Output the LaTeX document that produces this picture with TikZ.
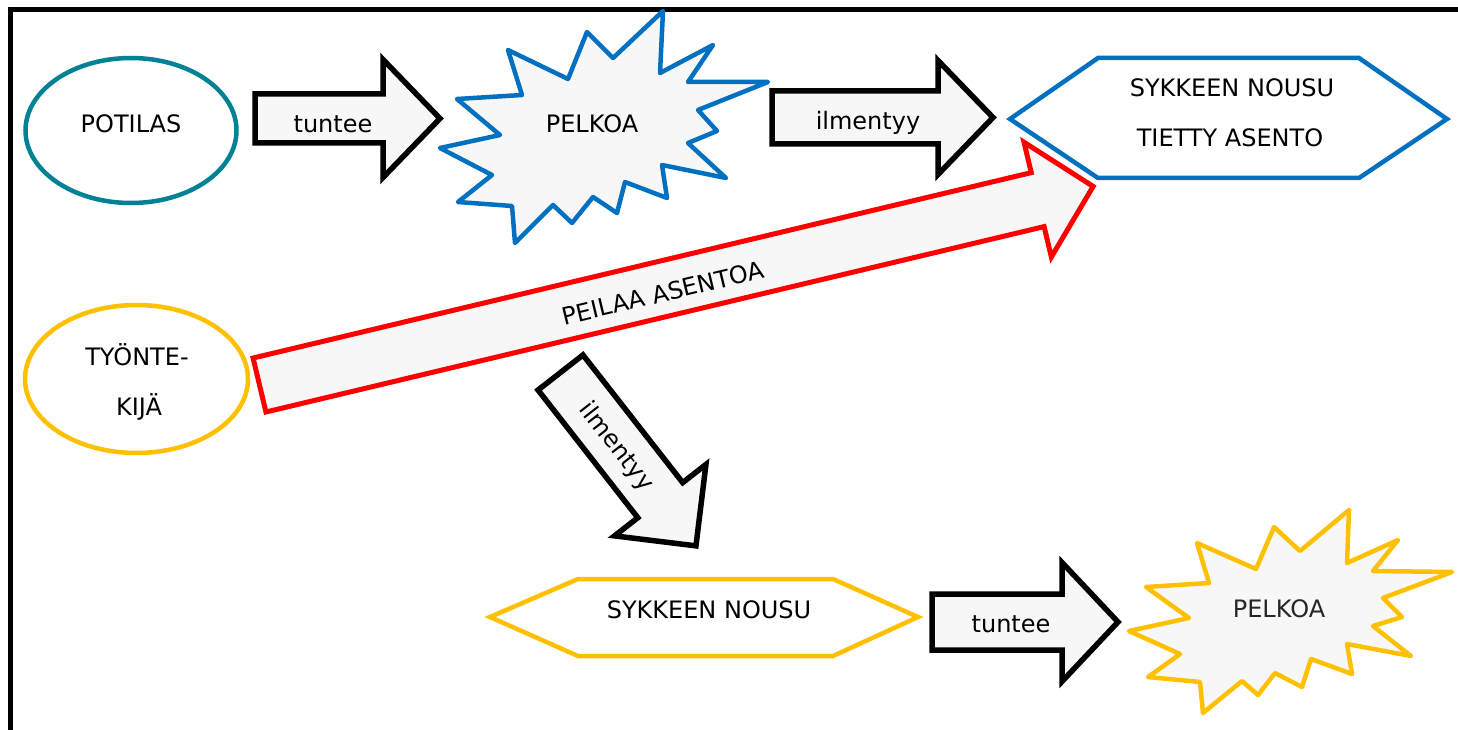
\documentclass[tikz,border=0pt]{standalone}
\usepackage{fontspec}
\setmainfont{DejaVu Sans}
\usetikzlibrary{shapes.geometric}
\definecolor{tealline}{RGB}{0,130,148}
\definecolor{blueline}{RGB}{0,112,192}
\definecolor{goldline}{RGB}{255,192,0}
\definecolor{fillgray}{RGB}{247,247,247}
\definecolor{txtdark}{RGB}{38,38,38}
\newcommand\BlkArrow[5]{%
  \draw[#1] (0,-#3) -- ({#2-#5},-#3) -- ({#2-#5},-#4) -- (#2,0) -- ({#2-#5},#4) -- ({#2-#5},#3) -- (0,#3) -- cycle;}
\begin{document}
\begin{tikzpicture}[x=1pt,y=-1pt,
  every node/.style={font=\fontsize{24}{29}\selectfont, inner sep=0pt, text=black},
  oval/.style={ellipse, draw, line width=4.5pt, fill=white, inner sep=0pt},
  blk/.style={draw=black, line width=5.5pt, fill=fillgray, line join=miter},
  redblk/.style={draw=red, line width=5pt, fill=fillgray, line join=miter},
  burst/.style={line width=4.5pt, fill=fillgray, line join=round},
  hexa/.style={line width=4.5pt, fill=white, line join=miter},
  lbl/.style={anchor=base}
]
\useasboundingbox (0,0) rectangle (1458,730);
\fill[white] (0,0) rectangle (1458,730);
\draw[line width=5pt] (1458,10) -- (10,10) -- (10,730);

% hexagons
\draw[hexa, draw=blueline] (1010,119) -- (1098,58) -- (1359,58) -- (1447,119) -- (1359,178) -- (1098,178) -- cycle;
\draw[hexa, draw=goldline] (490,617) -- (578,579) -- (833,579) -- (918,617) -- (833,656) -- (578,656) -- cycle;

% bursts
\draw[burst, draw=blueline] (663,11) -- (660,73) -- (713,45) -- (688,82) -- (768,82) -- (698,110) -- (717,131) -- (688,143) -- (726,178) -- (662,165) -- (667,198) -- (625,182) -- (617,213) -- (593,197) -- (572,223) -- (553,205) -- (515,243) -- (512,206) -- (458,202) -- (492,175) -- (440,148) -- (500,135) -- (457,99) -- (522,95) -- (508,50) -- (568,79) -- (587,32) -- (613,58) -- cycle;
\draw[burst, draw=goldline] (1349,510) -- (1347,563) -- (1398,540) -- (1373,571) -- (1452,572) -- (1383,598) -- (1402,617) -- (1373,626) -- (1411,656) -- (1347,644) -- (1352,674) -- (1311,659) -- (1302,687) -- (1275,673) -- (1258,695) -- (1242,681) -- (1203,713) -- (1200,682) -- (1148,677) -- (1180,654) -- (1129,631) -- (1189,618) -- (1146,587) -- (1209,583) -- (1197,543) -- (1256,569) -- (1274,527) -- (1300,551) -- cycle;

% ovals
\node[oval, draw=tealline, minimum width=211pt, minimum height=145pt] (potilas) at (131,130.5) {};
\node[oval, draw=goldline, minimum width=223pt, minimum height=148pt] (tyontekija) at (136.5,379) {};

% block arrows
\begin{scope}[shift={(255,118.5)}] \BlkArrow{blk}{185}{24.5}{59}{57} \end{scope}
\begin{scope}[shift={(772,117.5)}] \BlkArrow{blk}{221}{26.5}{57}{55} \end{scope}
\begin{scope}[shift={(932,622)}] \BlkArrow{blk}{186}{28}{59.5}{56} \end{scope}
\begin{scope}[shift={(560.5,372.5)}, rotate=-52] \BlkArrow{blk}{220}{28.5}{58}{58} \end{scope}
\begin{scope}[shift={(259.5,385)}, rotate=13.4] \BlkArrow{redblk}{857}{27.75}{59}{57} \end{scope}

% texts
\node[lbl] (potilasT) at (131,132.7) {POTILAS};
\node[lbl] (tyT1) at (137,365) {TYÖNTE-};
\node[lbl] (tyT2) at (139,415) {KIJÄ};
\node[lbl] (pelkoa1) at (592,133) {PELKOA};
\node[lbl, text=txtdark] (pelkoa2) at (1279,617) {PELKOA};
\node[lbl] (hexT1) at (1232,97) {SYKKEEN NOUSU};
\node[lbl] (hexT2) at (1230,147) {TIETTY ASENTO};
\node[lbl] (hexB) at (709,618) {SYKKEEN NOUSU};
\node[lbl] (tuntee1) at (333,132.7) {tuntee};
\node[lbl] (ilm1) at (868,130) {ilmentyy};
\node[lbl] (tuntee2) at (1011,632.7) {tuntee};
\node[rotate=13.4] (peilaa) at (663,293) {PEILAA ASENTOA};
\node[rotate=-52] (ilm2) at (616,447) {ilmentyy};
\end{tikzpicture}
\end{document}
